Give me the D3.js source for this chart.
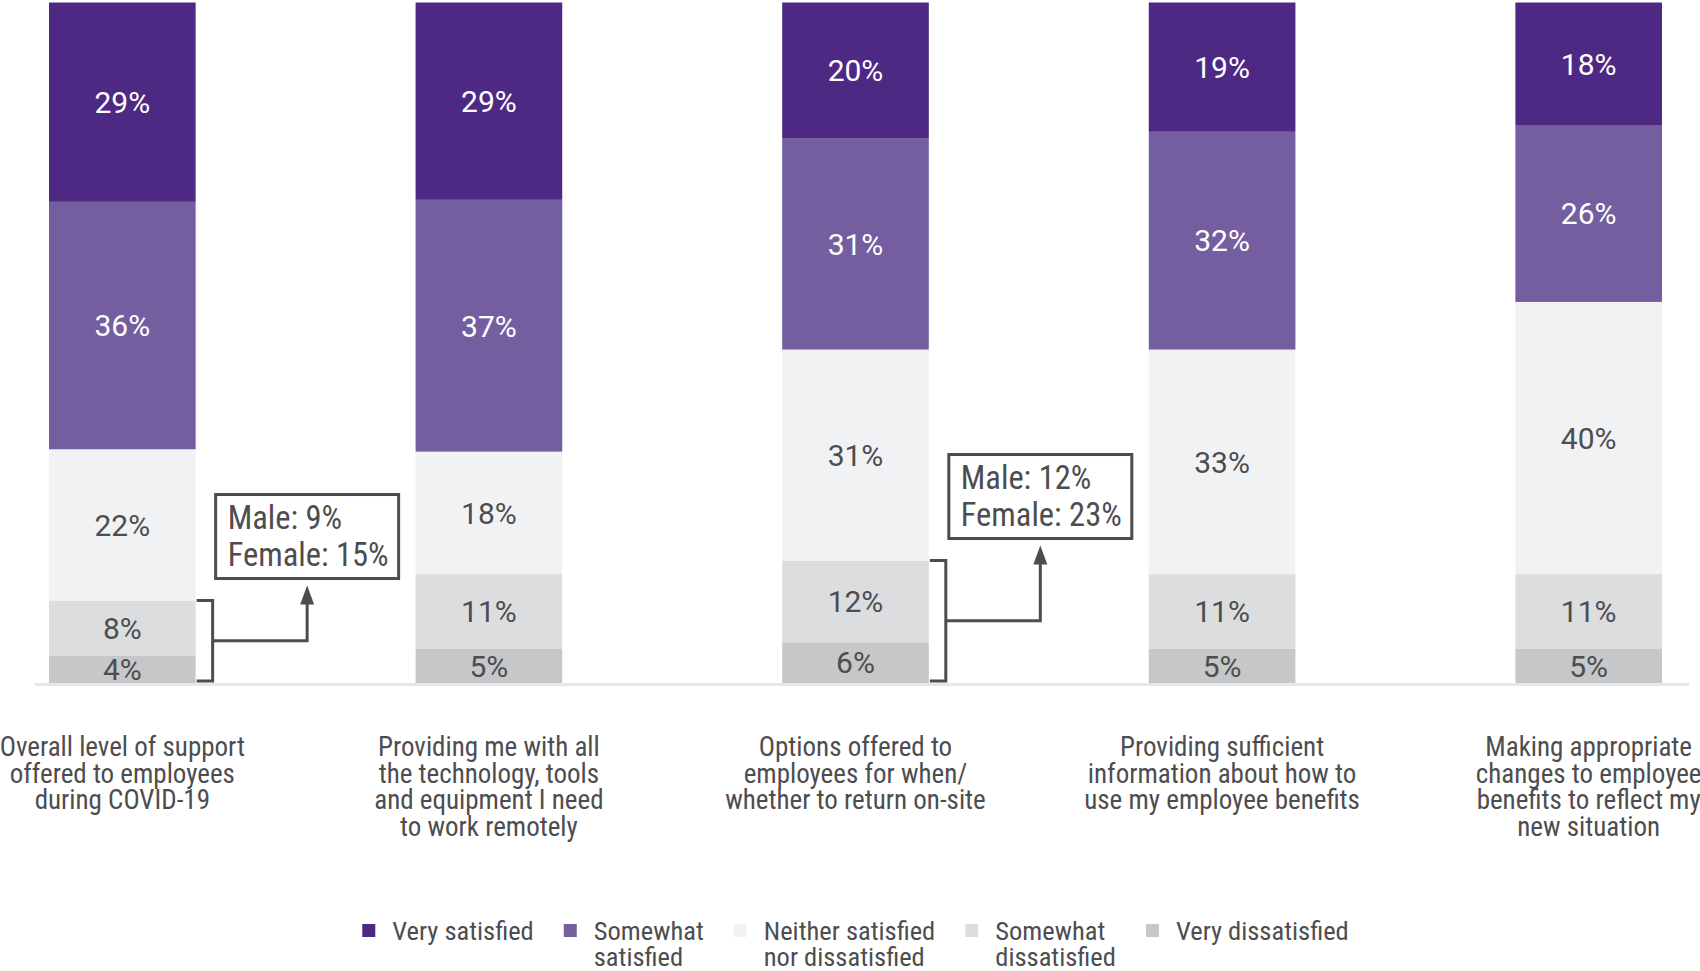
<!DOCTYPE html>
<html>
<head>
<meta charset="utf-8">
<script src="https://cdn.jsdelivr.net/npm/d3@7/dist/d3.min.js"></script>
<style>
  html, body { margin: 0; padding: 0; background: #ffffff; }
  svg { display: block; }
  .narrow { font-family: "Liberation Sans Narrow", "Arial Narrow", "Roboto Condensed", sans-serif; font-stretch: condensed; }
  .val { font-family: Roboto, "Liberation Sans", Arial, sans-serif; }
</style>
</head>
<body>
<svg id="chart" width="1700" height="971"></svg>
<script>
// ---------- data ----------
const categories = [
  "Overall level of support offered to employees during COVID-19",
  "Providing me with all the technology, tools and equipment I need to work remotely",
  "Options offered to employees for when/ whether to return on-site",
  "Providing sufficient information about how to use my employee benefits",
  "Making appropriate changes to employee benefits to reflect my new situation"
];
const categoryLines = [
  ["Overall level of support", "offered to employees", "during COVID-19"],
  ["Providing me with all", "the technology, tools", "and equipment I need", "to work remotely"],
  ["Options offered to", "employees for when/", "whether to return on-site"],
  ["Providing sufficient", "information about how to", "use my employee benefits"],
  ["Making appropriate", "changes to employee", "benefits to reflect my", "new situation"]
];
const seriesNames = ["Very satisfied", "Somewhat satisfied", "Neither satisfied nor dissatisfied", "Somewhat dissatisfied", "Very dissatisfied"];
const legendLines = [["Very satisfied"], ["Somewhat", "satisfied"], ["Neither satisfied", "nor dissatisfied"], ["Somewhat", "dissatisfied"], ["Very dissatisfied"]];
const verySatisfied        = [29, 29, 20, 19, 18];
const somewhatSatisfied    = [36, 37, 31, 32, 26];
const neither              = [22, 18, 31, 33, 40];
const somewhatDissatisfied = [8, 11, 12, 11, 11];
const veryDissatisfied     = [4, 5, 6, 5, 5];
const seriesColors = ["#4e2984", "#745ea0", "#f1f2f4", "#dcdddf", "#c6c7c9"];
const labelColors  = ["#ffffff", "#ffffff", "#4d4d4f", "#4d4d4f", "#4d4d4f"];

// callouts: which bar, and gender split of the dissatisfied share
const calloutBar    = [0, 2];
const calloutMale   = ["9%", "12%"];
const calloutFemale = ["15%", "23%"];

// ---------- build table ----------
const seriesValues = [verySatisfied, somewhatSatisfied, neither, somewhatDissatisfied, veryDissatisfied];
const table = categories.map((c, i) => {
  const row = { category: c };
  seriesNames.forEach((s, j) => row[s] = seriesValues[j][i]);
  return row;
});
const stackKeys = seriesNames.slice().reverse(); // bottom -> top
const stacked = d3.stack().keys(stackKeys).offset(d3.stackOffsetExpand)(table);

// ---------- scales ----------
const svg = d3.select("#chart");
const baseY = 683;
const x = d3.scaleBand().domain(categories).range([49, 1662]).paddingInner(0.6).paddingOuter(0);
const y = d3.scaleLinear().domain([0, 1]).range([baseY, 2.5]);
const color = d3.scaleOrdinal().domain(seriesNames).range(seriesColors);
const labelColor = d3.scaleOrdinal().domain(seriesNames).range(labelColors);

// ---------- bars ----------
const layers = svg.append("g").selectAll("g").data(stacked).join("g")
  .attr("fill", d => color(d.key));
layers.selectAll("rect").data(d => d.map(p => ({ p, key: d.key }))).join("rect")
  .attr("x", d => x(d.p.data.category))
  .attr("width", x.bandwidth())
  .attr("y", d => y(d.p[1]))
  .attr("height", d => y(d.p[0]) - y(d.p[1]));

// baseline
svg.append("line")
  .attr("x1", 35).attr("x2", 1689)
  .attr("y1", baseY + 1.5).attr("y2", baseY + 1.5)
  .attr("stroke", "#e6e7e8").attr("stroke-width", 3);

// value labels
const labelG = svg.append("g").attr("class", "val");
stacked.forEach(layer => {
  layer.forEach(p => {
    labelG.append("text")
      .attr("x", x(p.data.category) + x.bandwidth() / 2)
      .attr("y", (y(p[0]) + y(p[1])) / 2)
      .attr("dy", "0.36em")
      .attr("text-anchor", "middle")
      .attr("font-size", 30)
      .attr("fill", labelColor(layer.key))
      .text(p.data[layer.key] + "%");
  });
});

// category labels
const catG = svg.append("g").attr("class", "narrow");
categoryLines.forEach((lines, i) => {
  const t = catG.append("text")
    .attr("text-anchor", "middle")
    .attr("font-size", 27)
    .attr("fill", "#4d4d4f");
  lines.forEach((ln, k) => {
    t.append("tspan")
      .attr("x", x(categories[i]) + x.bandwidth() / 2)
      .attr("y", baseY + 73 + k * 26.6)
      .text(ln);
  });
});

// callouts
const ink = "#4d4d4f";
const cg = svg.append("g");
calloutBar.forEach((bi, i) => {
  const cat = categories[bi];
  const right = x(cat) + x.bandwidth();
  // bracket spans the two dissatisfied segments (bottom two layers)
  const top = y(stacked[1].find(p => p.data.category === cat)[1]);
  const bottom = y(0) - 2;
  const bx = right + 17;
  const midY = (top + bottom) / 2;
  cg.append("path")
    .attr("d", `M${right + 1},${top} H${bx} V${bottom} H${right + 1}`)
    .attr("fill", "none").attr("stroke", ink).attr("stroke-width", 3);
  const boxW = 183, boxH = 84;
  const boxX = right + 20;
  const boxY = top - 22 - boxH;
  const ax = boxX + boxW / 2;
  const tipY = top - 15;
  cg.append("path")
    .attr("d", `M${bx},${midY} H${ax} V${tipY + 14}`)
    .attr("fill", "none").attr("stroke", ink).attr("stroke-width", 3);
  cg.append("path")
    .attr("d", `M${ax},${tipY} L${ax - 7},${tipY + 19} L${ax + 7},${tipY + 19} Z`)
    .attr("fill", ink);
  cg.append("rect")
    .attr("x", boxX).attr("y", boxY).attr("width", boxW).attr("height", boxH)
    .attr("fill", "#ffffff").attr("stroke", ink).attr("stroke-width", 3);
  const tt = cg.append("text").attr("class", "narrow").attr("font-size", 32.5).attr("fill", ink);
  tt.append("tspan").attr("x", boxX + 12).attr("y", boxY + 34).text("Male: " + calloutMale[i]);
  tt.append("tspan").attr("x", boxX + 12).attr("y", boxY + 71).text("Female: " + calloutFemale[i]);
});

// legend
const lg = svg.append("g").attr("class", "narrow");
const items = [];
let cx = 0;
const legGap = 30;
seriesNames.forEach((s, i) => {
  const g = lg.append("g");
  g.append("rect").attr("x", 0).attr("y", -16).attr("width", 13).attr("height", 13).attr("fill", color(s));
  const t = g.append("text").attr("font-size", 26.5).attr("fill", "#4d4d4f");
  legendLines[i].forEach((ln, k) => t.append("tspan").attr("x", 30).attr("y", k * 26).text(ln));
  const w = 30 + d3.max(t.selectAll("tspan").nodes(), n => n.getComputedTextLength());
  items.push({ g, x: cx, w });
  cx += w + legGap;
});
const totalW = cx - legGap;
const startX = (49 + 1662) / 2 - totalW / 2;
items.forEach(it => it.g.attr("transform", `translate(${startX + it.x},940)`));
</script>
</body>
</html>
